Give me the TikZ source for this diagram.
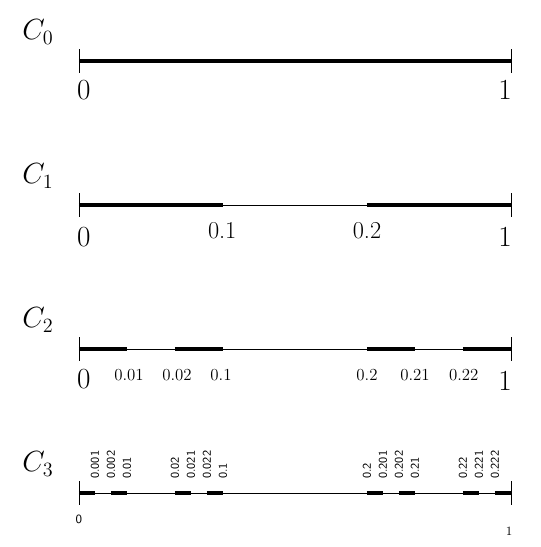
\documentclass[tikz,border=0pt]{standalone}
\usepackage{amsmath}
\usepackage{amssymb}
\usepackage{tikz}
\usetikzlibrary{positioning, calc}

\begin{document}
\begin{tikzpicture}[
    thin line/.style={line width=0.6pt},
    kept/.style={line width=3.5pt},
    tickmark/.style={line width=0.7pt},
    setname/.style={font=\huge},
    endlabel/.style={font=\huge},
    midlabel/.style={font=\LARGE},
    smalllabel/.style={font=\large},
    tinylabel/.style={font=\sffamily\fontsize{8.5}{10}\selectfont, rotate=90, anchor=west, inner sep=0pt}
]
    \useasboundingbox (-1.975,1.525) rectangle (11.525,-12.15);

    % Set names
    \node[setname] (c0) at (-1.025,0.725) {$C_0$};
    \node[setname] (c1) at (-1.025,-2.875) {$C_1$};
    \node[setname] (c2) at (-1.025,-6.475) {$C_2$};
    \node[setname] (c3) at (-1.025,-10.075) {$C_3$};

    % End points of each row
    \foreach \r/\y in {0/0, 1/-3.6, 2/-7.2, 3/-10.8} {
        \coordinate (a\r) at (0,\y);
        \coordinate (b\r) at (10.8,\y);
        \draw[thin line] (a\r) -- (b\r);
        \draw[tickmark] ($(a\r)+(0,0.3)$) -- ($(a\r)+(0,-0.3)$);
        \draw[tickmark] ($(b\r)+(0,0.3)$) -- ($(b\r)+(0,-0.3)$);
    }

    % C_0
    \draw[kept] (a0) -- (b0);
    \node[endlabel] (c0-0) at (0.12,-0.73) {0};
    \node[endlabel] (c0-1) at (10.65,-0.73) {1};

    % C_1
    \foreach \s in {0,18} {
        \draw[kept] (0.4*\s,-3.6) -- (0.4*\s+3.6,-3.6);
    }
    \node[endlabel] (c1-0) at (0.12,-4.4) {0};
    \node[midlabel] (c1-1) at (3.58,-4.25) {0.1};
    \node[midlabel] (c1-2) at (7.2,-4.25) {0.2};
    \node[endlabel] (c1-3) at (10.65,-4.4) {1};

    % C_2
    \foreach \s in {0,6,18,24} {
        \draw[kept] (0.4*\s,-7.2) -- (0.4*\s+1.2,-7.2);
    }
    \node[endlabel] (c2-0) at (0.12,-7.95) {0};
    \node[smalllabel] (c2-1) at (1.25,-7.85) {0.01};
    \node[smalllabel] (c2-2) at (2.45,-7.85) {0.02};
    \node[smalllabel] (c2-3) at (3.55,-7.85) {0.1};
    \node[smalllabel] (c2-4) at (7.2,-7.85) {0.2};
    \node[smalllabel] (c2-5) at (8.4,-7.85) {0.21};
    \node[smalllabel] (c2-6) at (9.62,-7.85) {0.22};
    \node[endlabel] (c2-7) at (10.65,-8.0) {1};

    % C_3
    \foreach \s in {0,2,6,8,18,20,24,26} {
        \draw[kept] (0.4*\s,-10.8) -- (0.4*\s+0.4,-10.8);
    }
    \foreach \p/\t in {1/0.001, 2/0.002, 3/0.01, 6/0.02, 7/0.021, 8/0.022, 9/0.1,
                       18/0.2, 19/0.201, 20/0.202, 21/0.21, 24/0.22, 25/0.221, 26/0.222} {
        \node[tinylabel] (c3-\p) at (0.4*\p,-10.45) {\t};
    }
    \node[font=\sffamily\small] (c3-0) at (0,-11.45) {0};
    \node[font=\small] (c3-27) at (10.75,-11.75) {1};
\end{tikzpicture}
\end{document}
